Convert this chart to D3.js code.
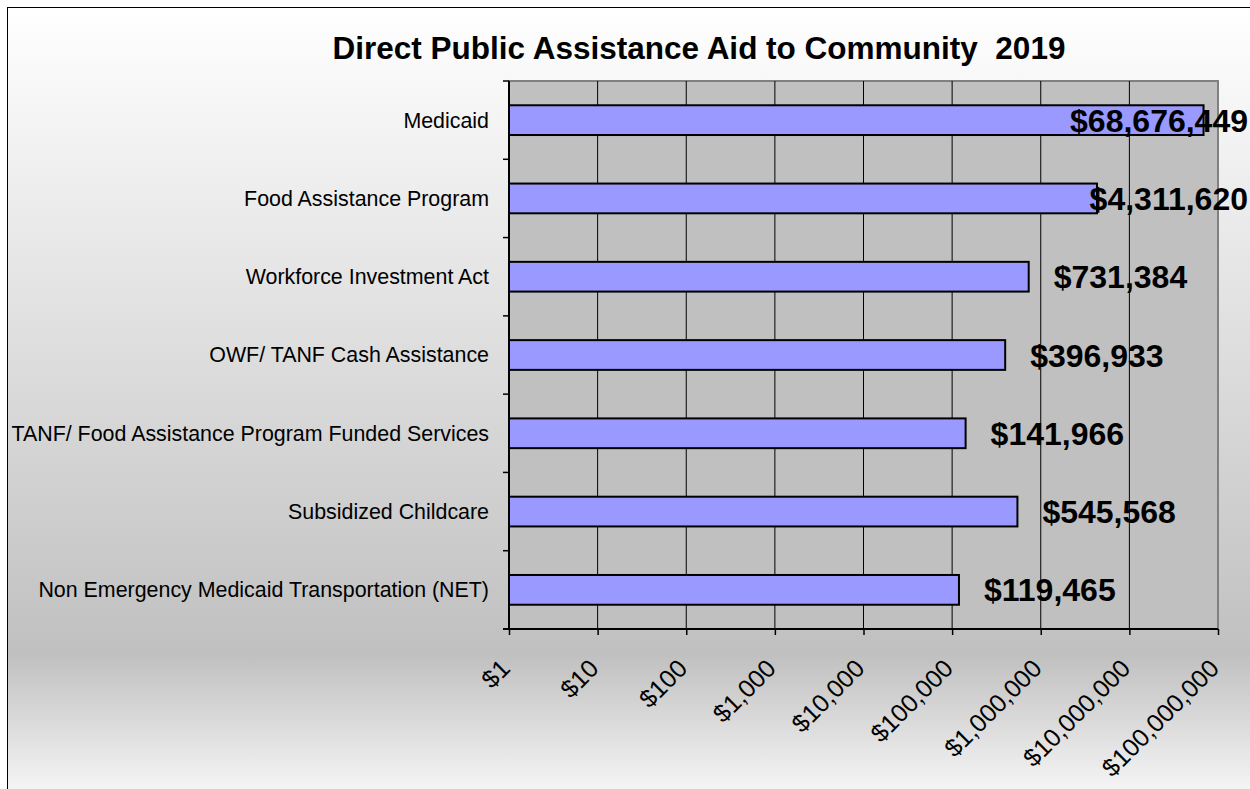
<!DOCTYPE html>
<html>
<head>
<meta charset="utf-8">
<script src="https://cdn.jsdelivr.net/npm/d3@7"></script>
<style>
  body { margin: 0; background: #fff; }
  text { font-family: "Liberation Sans", Arial, sans-serif; }
</style>
</head>
<body>
<script>
var w = 1250; // page width
var h = 789;  // page height

// Data
var categories = [
    "Medicaid",
    "Food Assistance Program",
    "Workforce Investment Act",
    "OWF/ TANF Cash Assistance",
    "TANF/ Food Assistance Program Funded Services",
    "Subsidized Childcare",
    "Non Emergency Medicaid Transportation (NET)"
];
var amounts = [68676449, 4311620, 731384, 396933, 141966, 545568, 119465];
var tickValues = [1, 10, 100, 1000, 10000, 100000, 1000000, 10000000, 100000000];

var plot = {left: 509, right: 1218, top: 81, bottom: 629};

var svg = d3.select("body")
    .append("svg")
    .attr("width", w)
    .attr("height", h);

// background gradient
var grad = svg.append("defs").append("linearGradient")
    .attr("id", "bg")
    .attr("x1", 0).attr("y1", 0).attr("x2", 0).attr("y2", 1);
grad.append("stop").attr("offset", "0%").attr("stop-color", "#ffffff");
grad.append("stop").attr("offset", "80%").attr("stop-color", "#c0c0c0");
grad.append("stop").attr("offset", "100%").attr("stop-color", "#ffffff");

svg.append("rect")
    .attr("x", 7.5).attr("y", 7.5)
    .attr("width", w + 20).attr("height", h + 20)
    .attr("fill", "url(#bg)")
    .attr("stroke", "#000")
    .attr("stroke-width", 1);

// scales
var xScale = d3.scaleLog()
    .domain([1, 100000000])
    .range([plot.left, plot.right]);

var yScale = d3.scaleBand()
    .domain(categories)
    .range([plot.top, plot.bottom])
    .paddingInner(0.62)
    .paddingOuter(0.31);

var fmt = d3.format("$,");

// plot area
svg.append("rect")
    .attr("x", plot.left).attr("y", plot.top)
    .attr("width", plot.right - plot.left)
    .attr("height", plot.bottom - plot.top)
    .attr("fill", "#c0c0c0")
    .attr("stroke", "#808080")
    .attr("stroke-width", 2);

// vertical gridlines
svg.append("g")
    .selectAll("line")
    .data(tickValues.slice(1, -1))
    .join("line")
    .attr("x1", function(d) { return xScale(d); })
    .attr("x2", function(d) { return xScale(d); })
    .attr("y1", plot.top)
    .attr("y2", plot.bottom)
    .attr("stroke", "#000")
    .attr("stroke-width", 1);

// bars
svg.append("g")
    .selectAll("rect")
    .data(amounts)
    .join("rect")
    .attr("x", xScale(1))
    .attr("y", function(d, i) { return yScale(categories[i]); })
    .attr("width", function(d) { return xScale(d) - xScale(1); })
    .attr("height", yScale.bandwidth())
    .attr("fill", "#9999ff")
    .attr("stroke", "#000")
    .attr("stroke-width", 2);

// x axis
var xAxis = d3.axisBottom(xScale)
    .tickValues(tickValues)
    .tickFormat(fmt)
    .tickSize(6)
    .tickSizeOuter(0);

var gx = svg.append("g")
    .attr("transform", "translate(0," + plot.bottom + ")")
    .call(xAxis);
gx.select(".domain").attr("stroke", "#000").attr("stroke-width", 2)
    .attr("d", "M" + (plot.left - 6) + ",0H" + plot.right);
gx.selectAll(".tick line").attr("stroke", "#000").attr("stroke-width", 1.5);
gx.selectAll(".tick text")
    .attr("font-size", 25)
    .attr("fill", "#000")
    .attr("text-anchor", "end")
    .attr("transform", "translate(2,41) rotate(-45)")
    .attr("x", 0).attr("y", 0).attr("dy", 0);

// y axis with ticks at band boundaries
var step = yScale.step();
var gy = svg.append("g");
gy.append("line")
    .attr("x1", plot.left).attr("x2", plot.left)
    .attr("y1", plot.top).attr("y2", plot.bottom)
    .attr("stroke", "#000").attr("stroke-width", 2);
gy.selectAll("line.tk")
    .data(d3.range(categories.length + 1))
    .join("line")
    .attr("class", "tk")
    .attr("x1", plot.left - 6).attr("x2", plot.left)
    .attr("y1", function(i) { return plot.top + i * step; })
    .attr("y2", function(i) { return plot.top + i * step; })
    .attr("stroke", "#000").attr("stroke-width", 1.5);

// category labels
svg.append("g")
    .selectAll("text")
    .data(categories)
    .join("text")
    .attr("x", plot.left - 20)
    .attr("y", function(d) { return yScale(d) + yScale.bandwidth() / 2; })
    .attr("dy", "0.35em")
    .attr("text-anchor", "end")
    .attr("font-size", 21.4)
    .attr("fill", "#000")
    .text(function(d) { return d; });

// value labels
svg.append("g")
    .selectAll("text")
    .data(amounts)
    .join("text")
    .attr("y", function(d, i) { return yScale(categories[i]) + yScale.bandwidth() / 2; })
    .attr("dy", "0.36em")
    .attr("font-size", 32)
    .attr("font-weight", "bold")
    .attr("fill", "#000")
    .text(function(d) { return fmt(d); })
    .attr("x", function(d) {
        var tw = this.getComputedTextLength();
        return Math.min(xScale(d) + 25, w - 2 - tw);
    });

// title
svg.append("text")
    .attr("x", 699)
    .attr("y", 59)
    .attr("text-anchor", "middle")
    .attr("font-size", 31.5)
    .attr("font-weight", "bold")
    .attr("fill", "#000")
    .style("white-space", "pre")
    .text("Direct Public Assistance Aid to Community  2019");
</script>
</body>
</html>
